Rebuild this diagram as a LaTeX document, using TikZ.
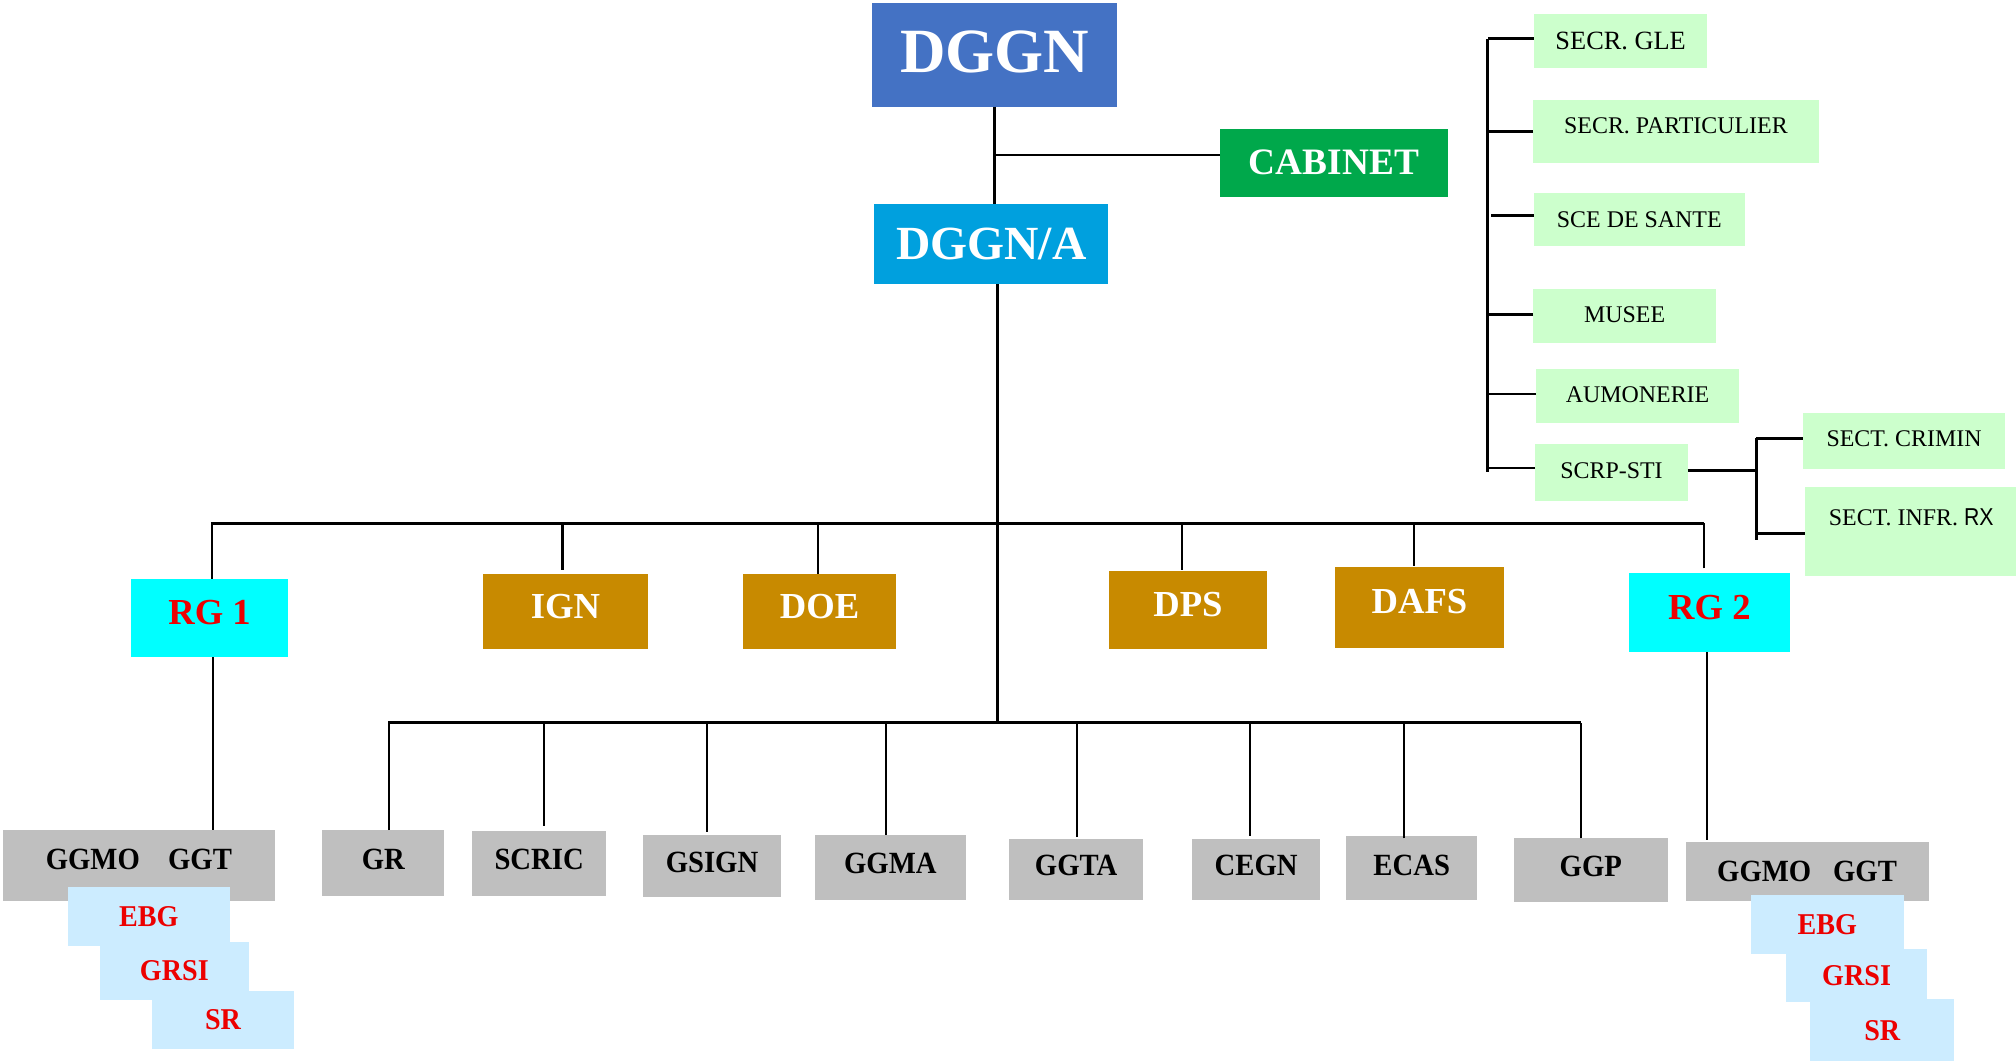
\documentclass[tikz,border=0pt]{standalone}
\usepackage{fontspec}
\setmainfont{Liberation Serif}
\newfontfamily\grayfont{Liberation Serif}[FakeStretch=0.93]
\newfontfamily\rxfont{Liberation Sans}[FakeStretch=0.87]
\definecolor{dggnblue}{RGB}{68,114,196}
\definecolor{cabgreen}{RGB}{0,168,75}
\definecolor{dgablue}{RGB}{0,160,222}
\definecolor{orng}{RGB}{200,138,0}
\definecolor{cyn}{RGB}{0,255,255}
\definecolor{gry}{RGB}{191,191,191}
\definecolor{lblue}{RGB}{204,236,255}
\definecolor{lgreen}{RGB}{204,255,204}
\definecolor{redt}{RGB}{236,0,0}
\begin{document}
\begin{tikzpicture}[x=1pt,y=-1pt,
  bx/.style={inner sep=0pt, outer sep=0pt, align=center},
  sz/.style 2 args={minimum width=#1pt, minimum height=#2pt},
  topbox/.style={bx, text=white, font=\bfseries},
  obox/.style={bx, fill=orng, text=white, font=\fontsize{28.5}{30}\selectfont\bfseries, text depth=8pt},
  cbox/.style={bx, fill=cyn, text=redt, font=\fontsize{28.5}{30}\selectfont\bfseries, text depth=8pt},
  gbox/.style={bx, fill=gry, text=black, font=\grayfont\fontsize{24}{26}\selectfont\bfseries, text depth=6pt},
  lbbox/.style={bx, fill=lblue, text=redt, font=\grayfont\fontsize{23.5}{25}\selectfont\bfseries},
  grbox/.style={bx, fill=lgreen, text=black, font=\fontsize{18.6}{20}\selectfont},
  trunk/.style={line width=2.4pt},
  bus/.style={line width=2pt},
  drop/.style={line width=1.6pt},
  side/.style={line width=2pt}
]
\fill[white] (0,0) rectangle (1568,826);
\useasboundingbox (0,0) rectangle (1568,826);

% top
\node[topbox, fill=dggnblue, sz={191}{81}, font=\fontsize{49}{52}\selectfont\bfseries, text depth=5pt] (dggn) at (773.5,42.5) {DGGN};
\node[topbox, fill=cabgreen, sz={177}{53}, font=\fontsize{29}{31}\selectfont\bfseries] (cab) at (1037.5,126.5) {CABINET};
\node[topbox, fill=dgablue, sz={182}{62}, font=\fontsize{37}{40}\selectfont\bfseries] (dgga) at (771,190) {DGGN/A};

% right column
\node[grbox, sz={135}{42}, font=\fontsize{20.5}{22}\selectfont] (sgle) at (1260.5,32) {SECR. GLE};
\node[grbox, sz={222.2}{48.9}, text depth=9.4pt] (spart) at (1303.5,102.25) {SECR. PARTICULIER};
\node[grbox, sz={164}{41.3}] (ssante) at (1275,170.65) {SCE DE SANTE};
\node[grbox, sz={142.4}{42.4}, text depth=2pt] (musee) at (1263.6,245.6) {MUSEE};
\node[grbox, sz={158}{42.3}, text depth=2pt] (aumon) at (1273.65,307.85) {AUMONERIE};
\node[grbox, sz={118.7}{44.2}, text depth=3.5pt] (scrp) at (1253.35,367.8) {SCRP-STI};
\node[grbox, sz={157.2}{44}, text depth=4pt] (crim) at (1480.9,343) {SECT. CRIMIN};
\node[grbox, sz={166}{69.5}, text depth=22pt] (infr) at (1486.5,413.25) {SECT. INFR. {\rxfont\fontsize{19}{20}\selectfont RX}};

% middle row
\node[cbox, sz={122}{61}] (rg1) at (163,480.5) {RG 1};
\node[obox, sz={128.5}{58}] (ign) at (439.75,475.5) {IGN};
\node[obox, sz={119}{58}] (doe) at (637.5,475.5) {DOE};
\node[obox, sz={123}{61}, text depth=9pt] (dps) at (924,474.5) {DPS};
\node[obox, sz={132}{63}, text depth=10pt] (dafs) at (1104,472.5) {DAFS};
\node[cbox, sz={125}{61}] (rg2) at (1329.5,476.5) {RG 2};

% bottom row
\node[gbox, sz={211}{55}, text depth=10pt] (ggmoL) at (108,673) {GGMO\hspace{22pt}GGT};
\node[gbox, sz={95.2}{51}] (gr) at (298.1,671.1) {GR};
\node[gbox, sz={104.7}{50.2}] (scric) at (419.35,671.5) {SCRIC};
\node[gbox, sz={107.6}{48.5}] (gsign) at (553.8,673.75) {GSIGN};
\node[gbox, sz={117}{50.2}] (ggma) at (692.5,674.6) {GGMA};
\node[gbox, sz={104}{47.4}] (ggta) at (837,676.3) {GGTA};
\node[gbox, sz={100}{47.4}] (cegn) at (977,676.3) {CEGN};
\node[gbox, sz={102}{50}, text depth=4pt] (ecas) at (1098,675) {ECAS};
\node[gbox, sz={119.4}{49.5}] (ggp) at (1237.3,676.75) {GGP};
\node[gbox, sz={189}{45.5}, text depth=0pt] (ggmoR) at (1405.5,677.75) {GGMO\hspace{17pt}GGT};

% stacked sub-boxes
\node[lbbox, sz={126}{45.5}] (ebgL) at (115.8,712.75) {EBG};
\node[lbbox, sz={115.6}{44.8}] (grsiL) at (135.6,755.1) {GRSI};
\node[lbbox, sz={111}{44.7}] (srL) at (173.5,793.35) {SR};
\node[lbbox, sz={118.6}{45.7}] (ebgR) at (1421.3,718.85) {EBG};
\node[lbbox, sz={110}{41.5}] (grsiR) at (1444,758.75) {GRSI};
\node[lbbox, sz={112}{48.5}] (srR) at (1464,801.25) {SR};

% coordinates of the buses
\coordinate (ubL) at (164,407);
\coordinate (ubR) at (1325,407);
\coordinate (lbL) at (302,562);
\coordinate (lbR) at (1230,562);
\coordinate (trunkEnd) at (776,562);
\coordinate (rsTop) at (1157,30);
\coordinate (rsBot) at (1157,367);
\coordinate (sbTop) at (1366,341);
\coordinate (sbBot) at (1366,420);

% top connectors
\draw[trunk] (dggn.south) -- (dggn.south |- dgga.north);
\draw[drop] ([yshift=6pt]cab.west) -- ([yshift=6pt]cab.west -| dggn.south);
\draw[trunk] ([xshift=5pt]dgga.south) -- (trunkEnd);

% upper bus and drops
\draw[bus] (ubL) -- (ubR);
\draw[drop] ([xshift=2pt]rg1.north) -- ([xshift=2pt]rg1.north |- ubL);
\draw[drop] ([xshift=-2.25pt,yshift=3.5pt]ign.north) -- ([xshift=-2.25pt]ign.north |- ubL);
\draw[drop] ([xshift=-1.5pt]doe.north) -- ([xshift=-1.5pt]doe.north |- ubL);
\draw[drop] ([xshift=-5pt,yshift=1pt]dps.north) -- ([xshift=-5pt]dps.north |- ubL);
\draw[drop] ([xshift=-4pt,yshift=1pt]dafs.north) -- ([xshift=-4pt]dafs.north |- ubL);
\draw[drop] ([xshift=-4.5pt,yshift=4pt]rg2.north) -- ([xshift=-4.5pt]rg2.north |- ubR);

% RG links
\draw[drop] ([xshift=3pt]rg1.south) -- ([xshift=3pt]rg1.south |- ggmoL.north);
\draw[drop] ([xshift=-1.5pt]rg2.south) -- ([xshift=-1.5pt,yshift=2pt]rg2.south |- ggmoR.north);

% lower bus and drops
\draw[bus] (lbL) -- (lbR);
\draw[drop] ([xshift=4.5pt]gr.north) -- ([xshift=4.5pt]gr.north |- lbL);
\draw[drop] ([xshift=4pt,yshift=4pt]scric.north) -- ([xshift=4pt,yshift=1.5pt]scric.north |- lbL);
\draw[drop] ([xshift=-3.8pt,yshift=2.5pt]gsign.north) -- ([xshift=-3.8pt]gsign.north |- lbL);
\draw[drop] ([xshift=-3.5pt]ggma.north) -- ([xshift=-3.5pt]ggma.north |- lbL);
\draw[drop] ([xshift=1pt,yshift=1.5pt]ggta.north) -- ([xshift=1pt]ggta.north |- lbL);
\draw[drop] ([xshift=-5pt,yshift=2.5pt]cegn.north) -- ([xshift=-5pt]cegn.north |- lbL);
\draw[drop] ([xshift=-6pt,yshift=-2pt]ecas.north) -- ([xshift=-6pt]ecas.north |- lbL);
\draw[drop] ([xshift=-7.8pt]ggp.north) -- ([xshift=-7.8pt]ggp.north |- lbL);

% right column
\draw[side] (rsTop) -- (rsBot);
\draw[side] ([yshift=2pt]sgle.west) -- ([yshift=2pt]sgle.west -| rsTop);
\draw[side] (spart.west) -- (spart.west -| rsTop);
\draw[side] ([yshift=2.85pt]ssante.west) -- ([yshift=2.85pt,xshift=2.5pt]ssante.west -| rsTop);
\draw[side] ([yshift=1.2pt]musee.west) -- ([yshift=1.2pt]musee.west -| rsTop);
\draw[side] ([yshift=1.45pt]aumon.west) -- ([yshift=1.45pt]aumon.west -| rsTop);
\draw[side] ([yshift=3.9pt]scrp.west) -- ([yshift=3.9pt]scrp.west -| rsTop);
\draw[side] ([yshift=1.8pt]scrp.east) -- ([yshift=1.8pt]scrp.east -| sbTop);
\draw[side] (sbTop) -- (sbBot);
\draw[side] ([yshift=2pt]crim.west) -- ([yshift=2pt]crim.west -| sbTop);
\draw[side] ([yshift=-1.75pt]infr.west) -- ([yshift=-1.75pt]infr.west -| sbTop);
\end{tikzpicture}
\end{document}
